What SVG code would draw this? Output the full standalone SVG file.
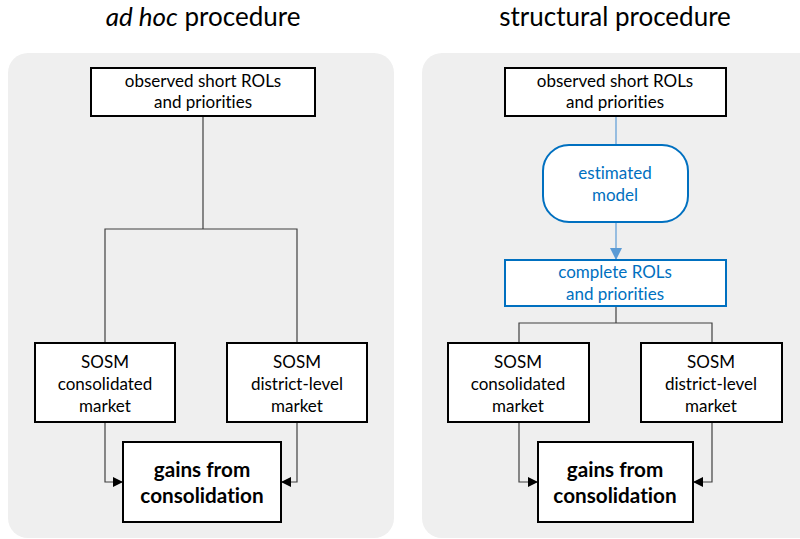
<svg xmlns="http://www.w3.org/2000/svg" width="800" height="539" viewBox="0 0 800 539">
<style>
.panel{fill:#efefef;stroke:none}
.box{fill:#fff;stroke:#000;stroke-width:2}
.bbox{fill:#fff;stroke:#0070c0;stroke-width:2}
text{font-variant-ligatures:none}
.t{font-family:Lato,"Liberation Sans",sans-serif;font-size:17px;fill:#000;text-anchor:middle}
.tb{fill:#0070c0}
.big{font-size:20.7px;font-weight:bold}
.title{font-family:Lato,"Liberation Sans",sans-serif;font-size:26px;fill:#000;text-anchor:middle}
.ln{fill:none;stroke:#404040;stroke-width:1.2}
.bl{fill:none;stroke:#5b9bd5;stroke-width:1.2}
</style>
<defs>
<marker id="ah" markerWidth="10" markerHeight="10" refX="9" refY="5" orient="auto" markerUnits="userSpaceOnUse"><path d="M0,0 L10,5 L0,10 Z" fill="#000"/></marker>
<marker id="ahb" markerWidth="12" markerHeight="12" refX="11" refY="6" orient="auto" markerUnits="userSpaceOnUse"><path d="M0,0 L12,6 L0,12 Z" fill="#5b9bd5"/></marker>
</defs>
<text class="title" x="203" y="26"><tspan font-style="italic">ad hoc</tspan> procedure</text>
<text class="title" x="615" y="26">structural procedure</text>
<rect class="panel" x="8" y="53" width="386" height="485" rx="20"/>
<rect class="panel" x="422" y="53" width="400" height="485" rx="20"/>
<g id="connectors">
<path class="ln" d="M203,116 V229 M105,343 V229 H297 V343"/>
<path class="ln" d="M105,422 V482 H122" marker-end="url(#ah)"/>
<path class="ln" d="M297,422 V482 H282" marker-end="url(#ah)"/>
<path class="bl" d="M616,116 V145"/>
<path class="bl" d="M616,222 V259" marker-end="url(#ahb)"/>
<path class="ln" d="M616,306 V323 M519,343 V323 H712 V343"/>
<path class="ln" d="M519,422 V482 H537" marker-end="url(#ah)"/>
<path class="ln" d="M712,422 V482 H694" marker-end="url(#ah)"/>
</g>
<g id="l_observed"><rect class="box" x="91" y="68" width="224" height="48"/><text class="t" x="203" y="87">observed short ROLs</text><text class="t" x="203" y="108">and priorities</text></g>
<g id="l_consolidated"><rect class="box" x="35" y="343" width="140" height="79"/><text class="t" x="105" y="368">SOSM</text><text class="t" x="105" y="390">consolidated</text><text class="t" x="105" y="412">market</text></g>
<g id="l_district"><rect class="box" x="227" y="343" width="140" height="79"/><text class="t" x="297" y="368">SOSM</text><text class="t" x="297" y="390">district-level</text><text class="t" x="297" y="412">market</text></g>
<g id="l_gains"><rect class="box" x="123" y="442" width="158" height="80"/><text class="t big" x="202" y="477">gains from</text><text class="t big" x="202" y="503">consolidation</text></g>
<g id="r_observed"><rect class="box" x="505" y="68" width="221" height="48"/><text class="t" x="615" y="87">observed short ROLs</text><text class="t" x="615" y="108">and priorities</text></g>
<g id="r_model"><rect class="bbox" x="543" y="145" width="145" height="77" rx="26"/><text class="t tb" x="615" y="179">estimated</text><text class="t tb" x="615" y="201">model</text></g>
<g id="r_complete"><rect class="bbox" x="505" y="260" width="221" height="46"/><text class="t tb" x="615" y="278">complete ROLs</text><text class="t tb" x="615" y="300">and priorities</text></g>
<g id="r_consolidated"><rect class="box" x="448" y="343" width="141" height="79"/><text class="t" x="518" y="368">SOSM</text><text class="t" x="518" y="390">consolidated</text><text class="t" x="518" y="412">market</text></g>
<g id="r_district"><rect class="box" x="641" y="343" width="141" height="79"/><text class="t" x="711" y="368">SOSM</text><text class="t" x="711" y="390">district-level</text><text class="t" x="711" y="412">market</text></g>
<g id="r_gains"><rect class="box" x="538" y="442" width="155" height="80"/><text class="t big" x="615" y="477">gains from</text><text class="t big" x="615" y="503">consolidation</text></g>
</svg>
